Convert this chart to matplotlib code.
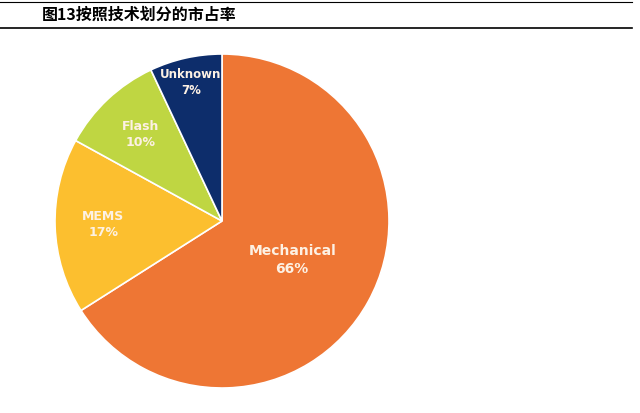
import numpy as np
import matplotlib
matplotlib.use("Agg")
import matplotlib.pyplot as plt
from matplotlib.lines import Line2D

plt.rcParams['font.family'] = ['Noto Sans CJK SC', 'DejaVu Sans']

# data
labels = ["Mechanical", "MEMS", "Flash", "Unknown"]
shares = [66, 17, 10, 7]
colors = ["#EE7634", "#FCBF2F", "#BFD642", "#0D2D6B"]
title = "图13按照技术划分的市占率"

W, H = 640, 413
fig = plt.figure(figsize=(W / 100, H / 100), dpi=100)

# title with rules
fig.add_artist(Line2D([0, 632 / W], [1 - 2 / H, 1 - 2 / H], color="black", lw=0.8))
fig.add_artist(Line2D([0, 632 / W], [1 - 28 / H, 1 - 28 / H], color="black", lw=1.2))
fig.text(42 / W, 1 - 15 / H, title, fontsize=11.5, fontweight="bold",
         va="center", ha="left")

# pie
cx, cy, r = 222, H - 221, 167
ax = fig.add_axes([(cx - r) / W, (cy - r) / H, 2 * r / W, 2 * r / H])
wedges, _ = ax.pie(shares, colors=colors, startangle=90, counterclock=False,
                   radius=1.0, wedgeprops=dict(edgecolor="white", linewidth=1.2))
ax.set_xlim(-1, 1)
ax.set_ylim(-1, 1)
ax.set_aspect("equal")
ax.axis("off")

dist = [0.48, 0.71, 0.71, 0.85]
sizes = [10, 9, 9, 8.5]
for w, lab, s, d, fs in zip(wedges, labels, shares, dist, sizes):
    ang = np.deg2rad((w.theta1 + w.theta2) / 2)
    ax.text(d * np.cos(ang), d * np.sin(ang), f"{lab}\n{s}%", ha="center",
            va="center", color="#FDF1E4", fontsize=fs, fontweight="bold",
            family="DejaVu Sans", linespacing=1.35)

fig.savefig("out.png", dpi=100)
